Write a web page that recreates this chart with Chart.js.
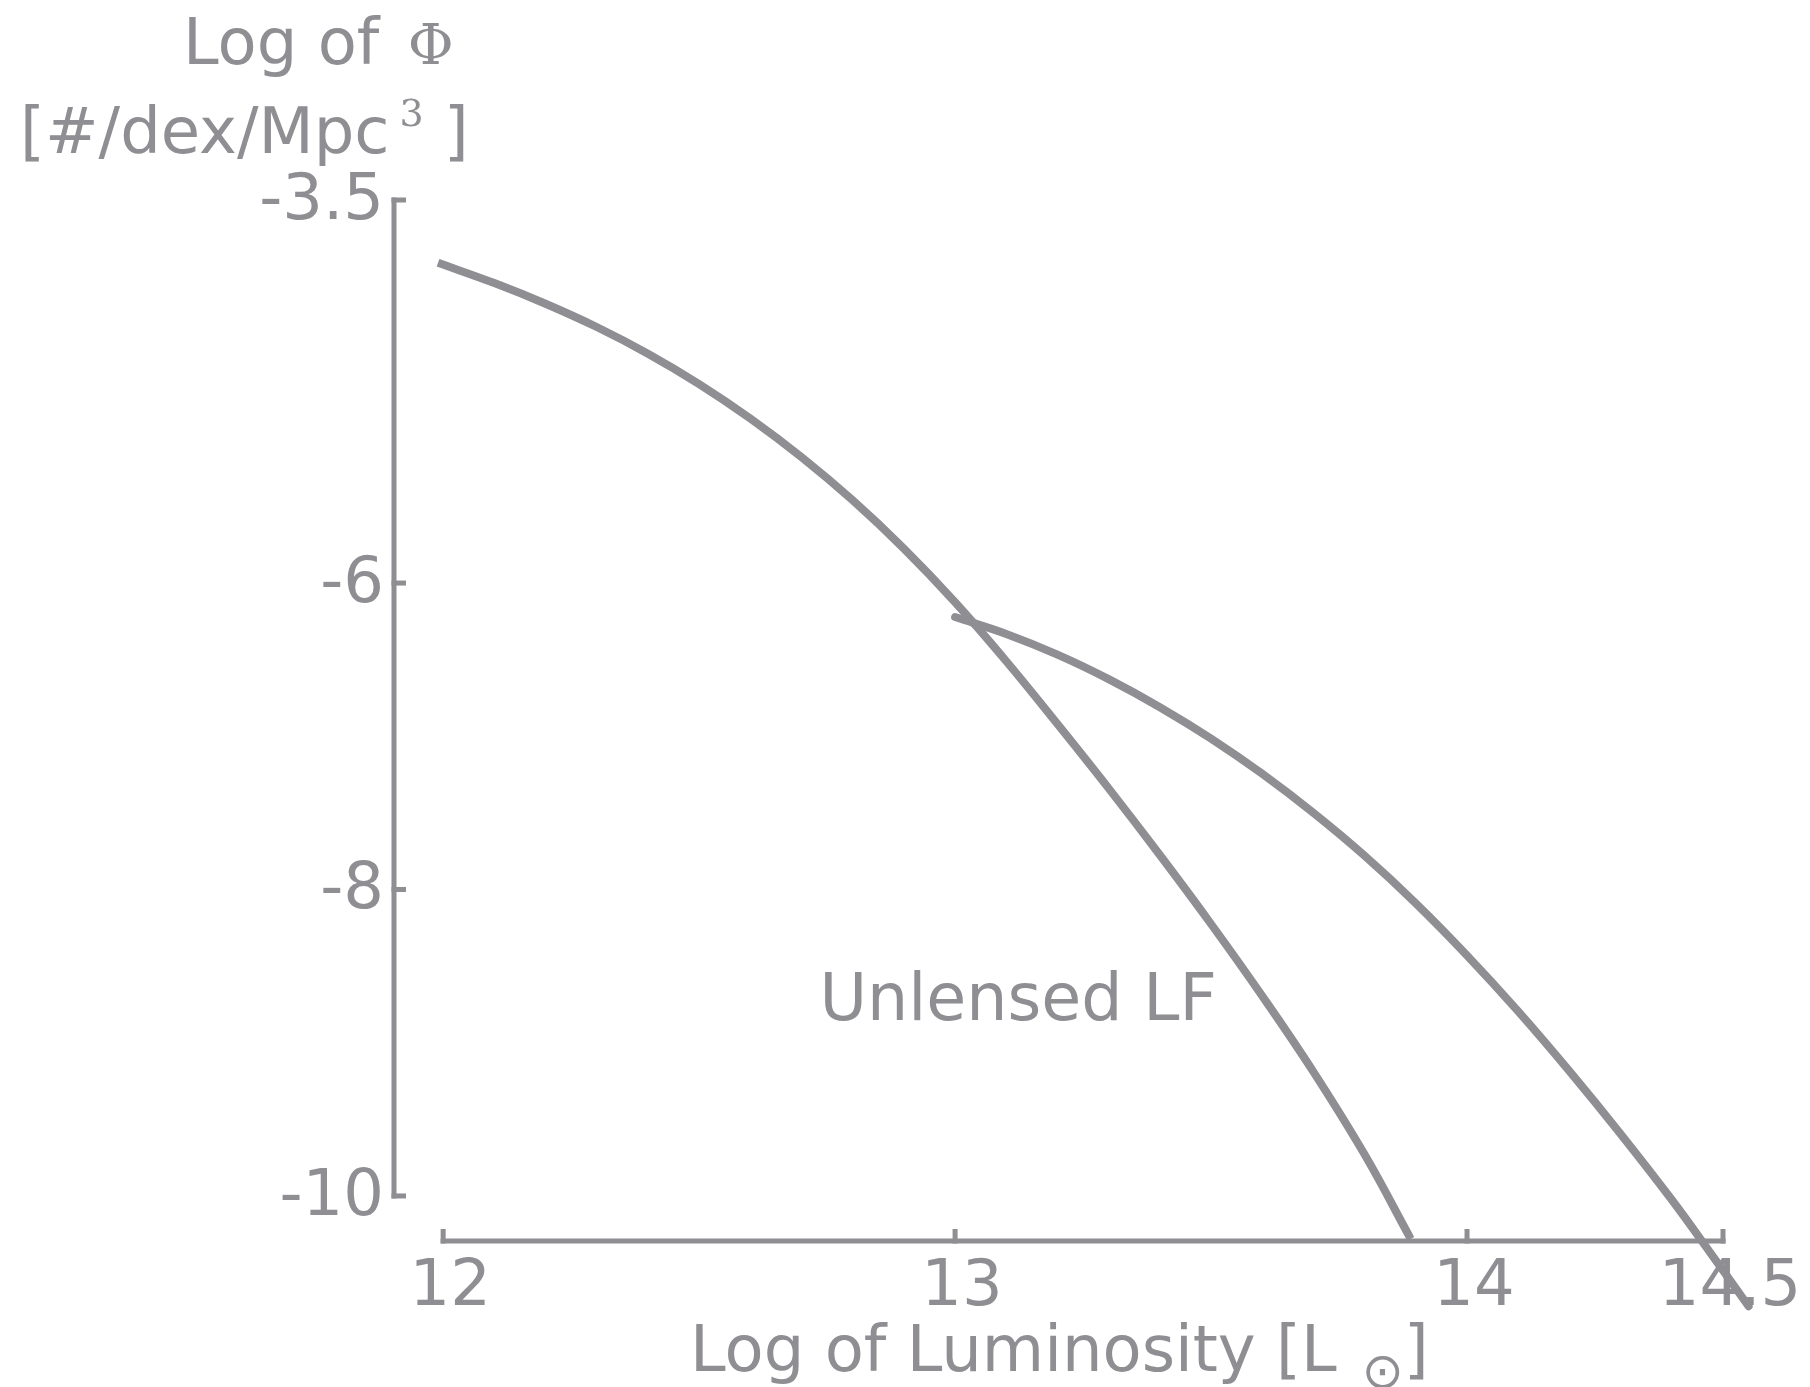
<!DOCTYPE html>
<html>
<head>
<meta charset="utf-8">
<script src="https://cdn.jsdelivr.net/npm/chart.js@4/dist/chart.umd.min.js"></script>
<style>
  html, body { margin: 0; padding: 0; background: #ffffff; }
  #wrap { width: 1810px; height: 1387px; }
</style>
</head>
<body>
<div id="wrap"><canvas id="lf" width="1810" height="1387"></canvas></div>
<script>
// Luminosity function: log10 of luminosity [L_sun] vs log10 of Phi [#/dex/Mpc^3]
const logL_unlensed = [11.99, 12.1, 12.2, 12.3, 12.4, 12.5, 12.6, 12.7, 12.8, 12.9,
                       13.0, 13.1, 13.2, 13.3, 13.4, 13.5, 13.6, 13.7, 13.8, 13.89];
const logPhi_unlensed = [-3.91, -4.042, -4.177, -4.329, -4.503, -4.701, -4.926, -5.178, -5.46, -5.775,
                         -6.125, -6.51, -6.92, -7.34, -7.775, -8.225, -8.695, -9.19, -9.73, -10.28];

const logL_lensed = [13.0, 13.1, 13.2, 13.3, 13.4, 13.5, 13.6, 13.7, 13.8, 13.9,
                     14.0, 14.1, 14.2, 14.3, 14.4, 14.475, 14.55];
const logPhi_lensed = [-6.222, -6.332, -6.467, -6.627, -6.81, -7.015, -7.245, -7.5, -7.78, -8.09,
                       -8.43, -8.795, -9.185, -9.595, -10.025, -10.37, -10.72];

const xTicks = [12, 13, 14, 14.5];
const yTicks = [-3.5, -6, -8, -10];

const curveLabel = 'Unlensed LF';

const GRAY = '#8e8e93';
const SANS = '"DejaVu Sans", "Bitstream Vera Sans", sans-serif';
const SERIF = '"DejaVu Serif", "Liberation Serif", serif';

const toPoints = (xs, ys) => xs.map((x, i) => ({ x: x, y: ys[i] }));

// Offset "range frame" spines: each axis only spans its first..last tick
const rangeFrame = {
  id: 'rangeFrame',
  beforeDatasetsDraw(chart) {
    const { ctx, scales: { x, y } } = chart;
    const lw = 5, tick = 12;
    ctx.save();
    ctx.strokeStyle = GRAY;
    ctx.lineWidth = lw;
    ctx.lineCap = 'butt';

    // vertical spine at the left edge of the plot area
    const sx = x.left;
    const yTop = y.getPixelForValue(yTicks[0]);
    const yBot = y.getPixelForValue(yTicks[yTicks.length - 1]);
    ctx.beginPath();
    ctx.moveTo(sx, yTop - lw / 2);
    ctx.lineTo(sx, yBot + lw / 2);
    ctx.stroke();
    yTicks.forEach(v => {
      const py = y.getPixelForValue(v);
      ctx.beginPath();
      ctx.moveTo(sx - lw / 2, py);
      ctx.lineTo(sx + tick, py);
      ctx.stroke();
    });

    // horizontal spine at the bottom edge of the plot area
    const sy = y.bottom;
    const xL = x.getPixelForValue(xTicks[0]);
    const xR = x.getPixelForValue(xTicks[xTicks.length - 1]);
    ctx.beginPath();
    ctx.moveTo(xL - lw / 2, sy);
    ctx.lineTo(xR + lw / 2, sy);
    ctx.stroke();
    xTicks.forEach(v => {
      const px = x.getPixelForValue(v);
      ctx.beginPath();
      ctx.moveTo(px, sy + lw / 2);
      ctx.lineTo(px, sy - tick);
      ctx.stroke();
    });
    ctx.restore();
  }
};

// Axis titles (with math symbols) and the curve annotation
const titles = {
  id: 'titles',
  afterDraw(chart) {
    const { ctx, scales: { x, y } } = chart;
    ctx.save();
    ctx.fillStyle = GRAY;
    ctx.textBaseline = 'alphabetic';
    ctx.textAlign = 'left';

    // y-axis title, two lines above the spine
    ctx.font = '64px ' + SANS;
    const l1 = 'Log of ';
    ctx.fillText(l1, 183, 64);
    let w = ctx.measureText(l1).width;
    ctx.font = '56px ' + SERIF;
    ctx.fillText('\u03A6', 183 + w + 8, 64);

    ctx.font = '64px ' + SANS;
    const l2 = '[#/dex/Mpc';
    ctx.fillText(l2, 20, 153);
    w = ctx.measureText(l2).width;
    ctx.font = '38px ' + SERIF;
    ctx.fillText('3', 20 + w + 10, 126);
    ctx.font = '64px ' + SANS;
    ctx.fillText(' ]', 20 + w + 34, 153);

    // x-axis title
    ctx.font = '64px ' + SANS;
    const t = 'Log of Luminosity [L';
    const tx = 690, ty = 1371;
    ctx.fillText(t, tx, ty);
    w = ctx.measureText(t).width;
    ctx.font = '50px ' + SANS;
    ctx.textAlign = 'center';
    ctx.textBaseline = 'middle';
    ctx.fillText('\u2299', tx + w + 46, ty + 4);
    ctx.textAlign = 'left';
    ctx.textBaseline = 'alphabetic';
    ctx.font = '64px ' + SANS;
    ctx.fillText(']', tx + w + 67, ty);

    // annotation placed in data coordinates
    ctx.font = '65px ' + SANS;
    ctx.fillText(curveLabel, x.getPixelForValue(12.735), y.getPixelForValue(-8.852));
    ctx.restore();
  }
};

const lineStyle = {
  showLine: true,
  borderColor: GRAY,
  backgroundColor: GRAY,
  borderWidth: 8,
  pointRadius: 0,
  pointHoverRadius: 0,
  tension: 0.4,
  fill: false,
  clip: false
};

new Chart(document.getElementById('lf').getContext('2d'), {
  type: 'scatter',
  data: {
    datasets: [
      Object.assign({ label: 'Unlensed LF', data: toPoints(logL_unlensed, logPhi_unlensed), borderCapStyle: 'butt' }, lineStyle),
      Object.assign({ label: 'Lensed LF', data: toPoints(logL_lensed, logPhi_lensed), borderCapStyle: 'round' }, lineStyle)
    ]
  },
  options: {
    responsive: false,
    animation: false,
    devicePixelRatio: 1,
    layout: { padding: { top: 200, right: 87, left: 0, bottom: 0 } },
    plugins: { legend: { display: false }, tooltip: { enabled: false }, title: { display: false } },
    scales: {
      x: {
        type: 'linear',
        position: 'bottom',
        min: 11.904,
        max: 14.5,
        afterFit: s => { s.height = 146; },
        afterBuildTicks: s => { s.ticks = xTicks.map(v => ({ value: v })); },
        grid: { display: false, drawTicks: false },
        border: { display: false },
        ticks: {
          color: GRAY,
          font: { family: SANS, size: 64 },
          padding: 9,
          labelOffset: 7,
          autoSkip: false,
          maxRotation: 0,
          minRotation: 0,
          callback: v => String(v)
        }
      },
      y: {
        type: 'linear',
        position: 'left',
        min: -10.294,
        max: -3.5,
        afterFit: s => { s.width = 394; },
        afterBuildTicks: s => { s.ticks = yTicks.map(v => ({ value: v })); },
        grid: { display: false, drawTicks: false },
        border: { display: false },
        ticks: {
          color: GRAY,
          font: { family: SANS, size: 64 },
          padding: 10,
          labelOffset: 2,
          autoSkip: false,
          callback: v => String(v)
        }
      }
    }
  },
  plugins: [rangeFrame, titles]
});
</script>
</body>
</html>
